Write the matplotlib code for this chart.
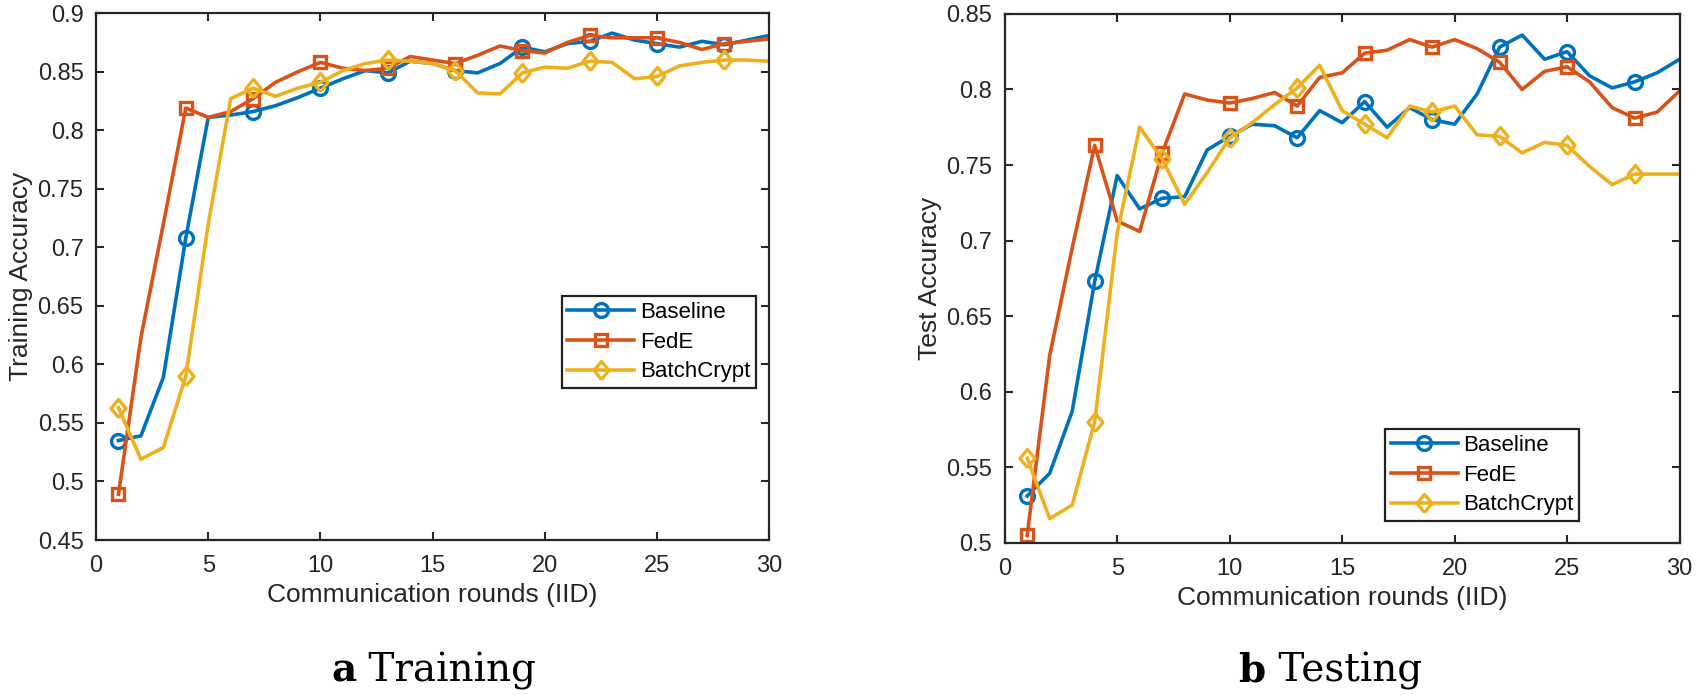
import matplotlib
matplotlib.use("Agg")
import matplotlib.pyplot as plt
import numpy as np

# communication rounds 1..30
rounds = np.arange(1, 31)

# training accuracy
base_train = [0.535, 0.539, 0.589, 0.708, 0.811, 0.813, 0.816, 0.821, 0.828, 0.836,
              0.844, 0.851, 0.849, 0.859, 0.857, 0.851, 0.849, 0.857, 0.871, 0.867,
              0.874, 0.876, 0.883, 0.877, 0.874, 0.871, 0.876, 0.873, 0.877, 0.881]
fede_train = [0.489, 0.623, 0.720, 0.819, 0.811, 0.816, 0.827, 0.841, 0.850, 0.858,
              0.853, 0.851, 0.853, 0.863, 0.860, 0.857, 0.864, 0.872, 0.868, 0.866,
              0.875, 0.881, 0.879, 0.879, 0.879, 0.875, 0.869, 0.874, 0.876, 0.878]
batch_train = [0.563, 0.519, 0.529, 0.590, 0.720, 0.827, 0.836, 0.829, 0.836, 0.841,
               0.851, 0.857, 0.860, 0.859, 0.857, 0.851, 0.832, 0.831, 0.849, 0.854,
               0.853, 0.859, 0.858, 0.844, 0.846, 0.855, 0.858, 0.860, 0.860, 0.859]

# test accuracy
base_test = [0.531, 0.546, 0.587, 0.673, 0.743, 0.721, 0.728, 0.729, 0.760, 0.769,
             0.777, 0.776, 0.768, 0.786, 0.778, 0.792, 0.775, 0.788, 0.780, 0.777,
             0.797, 0.828, 0.836, 0.820, 0.825, 0.809, 0.801, 0.805, 0.811, 0.820]
fede_test = [0.505, 0.624, 0.695, 0.763, 0.713, 0.706, 0.758, 0.797, 0.793, 0.791,
             0.794, 0.798, 0.789, 0.808, 0.811, 0.824, 0.826, 0.833, 0.828, 0.833,
             0.827, 0.818, 0.800, 0.812, 0.815, 0.805, 0.788, 0.781, 0.785, 0.799]
batch_test = [0.556, 0.516, 0.525, 0.580, 0.705, 0.775, 0.754, 0.724, 0.745, 0.768,
              0.778, 0.790, 0.801, 0.816, 0.786, 0.777, 0.768, 0.789, 0.785, 0.789,
              0.770, 0.769, 0.758, 0.765, 0.763, 0.749, 0.737, 0.744, 0.744, 0.744]

names = ['Baseline', 'FedE', 'BatchCrypt']
colors = ['#0072BD', '#D95319', '#EDB120']
# slightly tall diamond, like the matlab one in the figure
diamond = [(0, -1.0), (0.83, 0), (0, 1.0), (-0.83, 0), (0, -1.0)]
markers = ['o', 's', diamond]
msizes = [10, 9, 13]

plt.rcParams['font.family'] = ['Liberation Sans', 'DejaVu Sans']
dark = '#262626'

fig = plt.figure(figsize=(17, 6.95), dpi=100)
ax1 = fig.add_axes([0.0565, 0.223, 0.396, 0.758])
ax2 = fig.add_axes([0.591, 0.219, 0.397, 0.761])


def draw(ax, series, ylim, yticks, ylabel, leg_anchor):
    for vals, name, c, m, ms in zip(series, names, colors, markers, msizes):
        ax.plot(rounds, vals, color=c, lw=2.6, marker=m, ms=ms, mew=2.4,
                mfc='none', mec=c, markevery=3, label=name)
    ax.set_xlim(0, 30)
    ax.set_ylim(*ylim)
    ax.set_xticks(np.arange(0, 31, 5))
    ax.set_yticks(yticks)
    ax.set_yticklabels(['%g' % round(v, 2) for v in yticks])
    ax.tick_params(direction='in', top=True, right=True, length=6, width=1.5,
                   labelsize=17, colors=dark, labelcolor=dark)
    ax.tick_params(axis='x', pad=11)
    ax.tick_params(axis='y', pad=9)
    for s in ax.spines.values():
        s.set_linewidth(1.6)
        s.set_color(dark)
    ax.set_xlabel('Communication rounds (IID)', fontsize=19, color=dark, labelpad=4)
    ax.set_ylabel(ylabel, fontsize=19, color=dark, labelpad=3)
    leg = ax.legend(loc='upper left', bbox_to_anchor=leg_anchor, borderaxespad=0,
                    fontsize=16, fancybox=False, framealpha=1, edgecolor='#222222',
                    handlelength=3.0, handletextpad=0.25, borderpad=0.25,
                    labelspacing=0.4)
    leg.get_frame().set_linewidth(1.6)


draw(ax1, [base_train, fede_train, batch_train], (0.45, 0.9),
     np.arange(0.45, 0.901, 0.05), 'Training Accuracy', (0.692, 0.463))
draw(ax2, [base_test, fede_test, batch_test], (0.5, 0.85),
     np.arange(0.5, 0.851, 0.05), 'Test Accuracy', (0.564, 0.215))

# sub-figure captions
for ax, letter, word in [(ax1, 'a', ' Training'), (ax2, 'b', ' Testing')]:
    b = ax.get_position()
    cx = (b.x0 + b.x1) / 2 - 0.045
    fig.text(cx, 0.019, letter, fontsize=28, family='DejaVu Serif',
             weight='bold', ha='right', va='baseline')
    fig.text(cx, 0.019, word, fontsize=28, family='DejaVu Serif',
             ha='left', va='baseline')

fig.savefig('out.png', dpi=100)
